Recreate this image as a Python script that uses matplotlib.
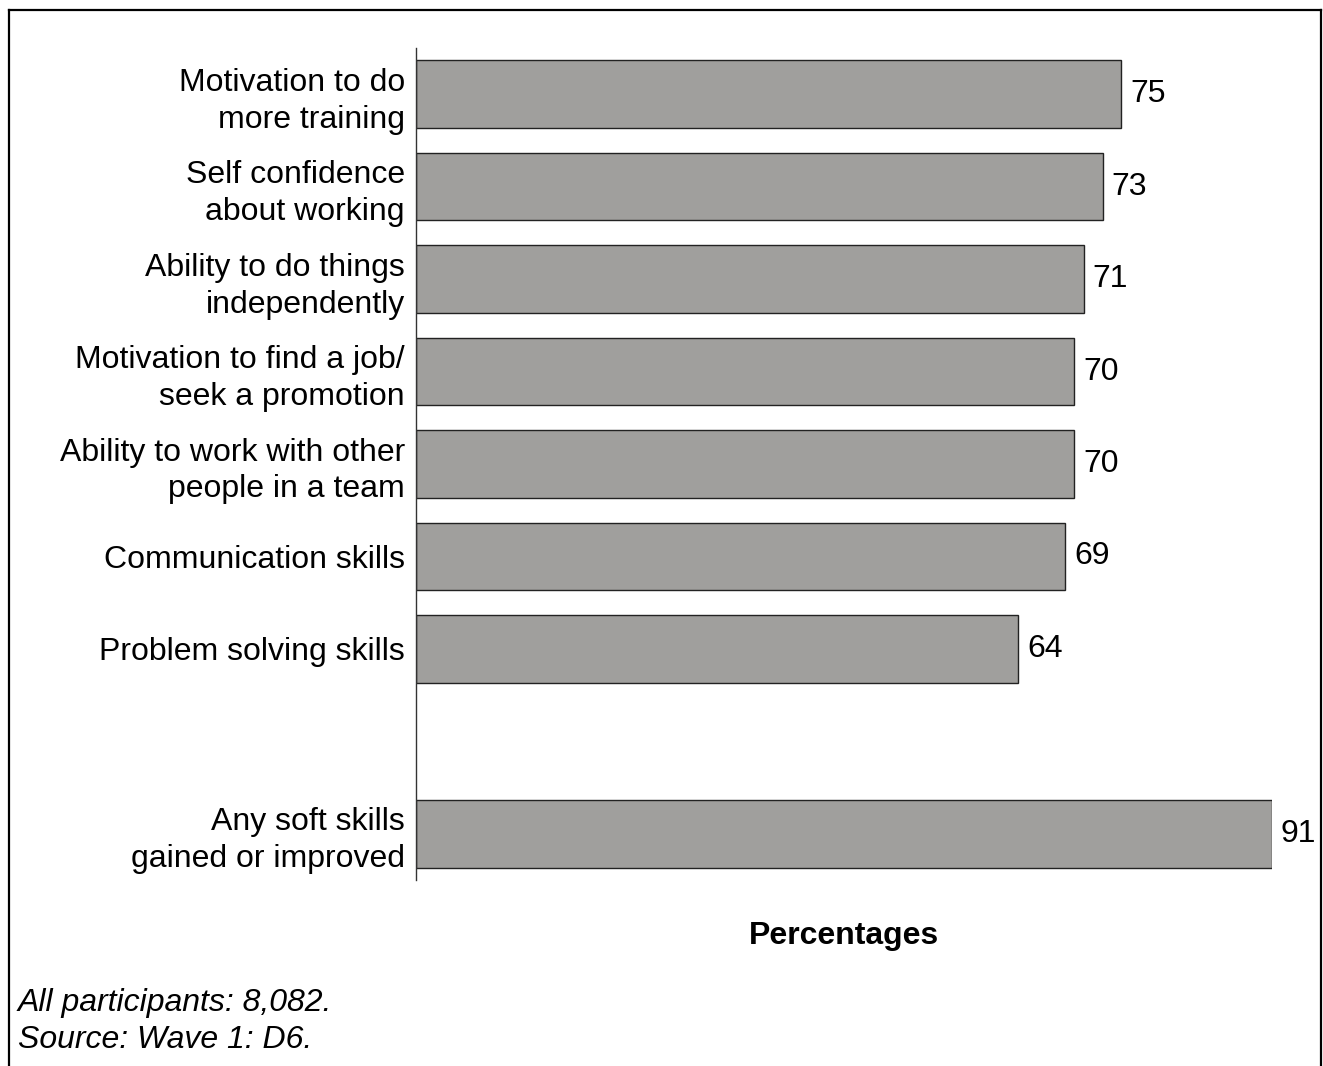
import matplotlib.pyplot as plt
from matplotlib.lines import Line2D

plt.rcParams["font.family"] = ["Liberation Sans", "DejaVu Sans"]

# Soft skills gained or improved, all participants
skills = [
    "Motivation to do\nmore training",
    "Self confidence\nabout working",
    "Ability to do things\nindependently",
    "Motivation to find a job/\nseek a promotion",
    "Ability to work with other\npeople in a team",
    "Communication skills",
    "Problem solving skills",
    "",
    "Any soft skills\ngained or improved",
]
pct = [75, 73, 71, 70, 70, 69, 64, None, 91]

FS = 23
W, H = 1323, 1066
fig = plt.figure(figsize=(W / 100, H / 100), dpi=100)

# axes placed in pixel terms
ax = fig.add_axes([416 / W, 1 - 880 / H, (1272 - 416) / W, (880 - 48) / H])

pos = list(range(len(skills)))
for y, v in zip(pos, pct):
    if v is None:
        continue
    ax.barh(y, v, height=0.73, color="#a09f9d", edgecolor="#222222", linewidth=1.0)
    ax.text(v + 0.95, y, str(v), va="center", ha="left", fontsize=FS)

ax.set_yticks(pos)
ax.set_yticklabels(skills, fontsize=FS, linespacing=1.3)
ax.set_ylim(len(skills) - 0.5, -0.5)
ax.set_xlim(0, 91)
ax.tick_params(axis="y", length=0, pad=8)
ax.set_xticks([])
for side in ["top", "right", "bottom"]:
    ax.spines[side].set_visible(False)
ax.spines["left"].set_color("#333333")
ax.spines["left"].set_linewidth(1.0)
ax.patch.set_alpha(0)

fig.text(844 / W, 1 - 936 / H, "Percentages", ha="center", va="center",
         fontsize=FS, fontweight="bold")
fig.text(18 / W, 1 - 1003 / H, "All participants: 8,082.", ha="left",
         va="center", fontsize=FS, style="italic")
fig.text(18 / W, 1 - 1040 / H, "Source: Wave 1: D6.", ha="left",
         va="center", fontsize=FS, style="italic")

# outer frame, open at the bottom
x0, x1, yt = 9 / W, 1321 / W, 1 - 10 / H
for xs, ys in [([x0, x1], [yt, yt]), ([x0, x0], [0, yt]), ([x1, x1], [0, yt])]:
    fig.add_artist(Line2D(xs, ys, color="black", linewidth=1.6,
                          transform=fig.transFigure, solid_capstyle="projecting"))

fig.savefig("out.png", dpi=100, facecolor="white")
